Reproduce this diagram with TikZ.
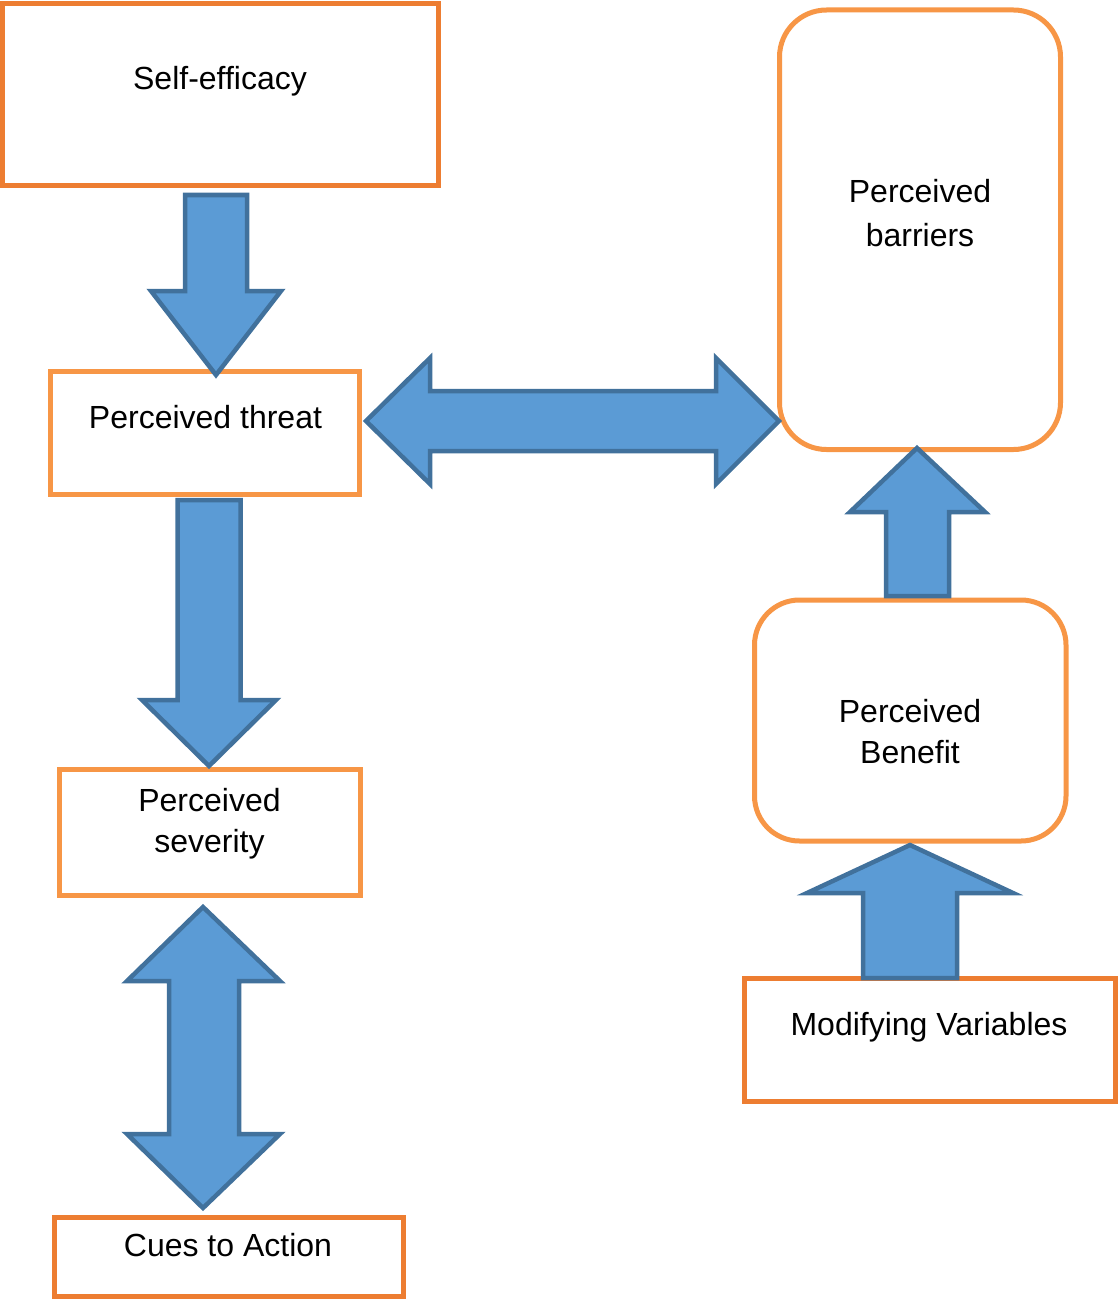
\documentclass[tikz,border=0pt]{standalone}
\usepackage{fontspec}
\setmainfont{Liberation Sans}
\definecolor{orangeA}{HTML}{ED7D31}
\definecolor{orangeB}{HTML}{F79646}
\definecolor{arrowfill}{HTML}{5B9BD5}
\definecolor{arrowline}{HTML}{41719C}
\begin{document}
\begin{tikzpicture}[x=1pt,y=-1pt,
  boxA/.style={draw=orangeA, line width=5pt, fill=white, inner sep=0pt, rectangle},
  boxB/.style={draw=orangeB, line width=5pt, fill=white, inner sep=0pt, rectangle},
  roundbox/.style={boxB, rounded corners=#1},
  lbl/.style={anchor=base, inner sep=0pt, font=\fontsize{32}{41}\selectfont},
  blockarrow/.style={fill=arrowfill, draw=arrowline, line width=4.5pt, line join=miter}]
\useasboundingbox (0,0) rectangle (1119,1300);

% boxes
\node[boxA, minimum width=435.5pt, minimum height=182pt] (self) at (220.25,94.5) {};
\node[boxB, minimum width=309pt, minimum height=123.5pt] (threat) at (205,432.75) {};
\node[boxB, minimum width=300.5pt, minimum height=126pt] (severity) at (209.75,832.5) {};
\node[boxA, minimum width=349pt, minimum height=79pt] (cues) at (229,1257) {};
\node[roundbox=47pt, minimum width=281pt, minimum height=439.5pt] (barriers) at (920,229.75) {};
\node[roundbox=45pt, minimum width=311.5pt, minimum height=241pt] (benefit) at (910.25,720.5) {};
\node[boxA, minimum width=371pt, minimum height=122.5pt] (modif) at (930,1039.75) {};

% texts
\node[lbl] (selfT) at (220,90) {Self-efficacy};
\node[lbl] (threatT) at (205.5,428) {Perceived threat};
\node[lbl] (sevT1) at (209.5,811) {Perceived};
\node[lbl] (sevT2) at (209.5,852) {severity};
\node[lbl] (cuesT) at (228,1256) {Cues to Action};
\node[lbl] (barT1) at (920,203) {Perceived};
\node[lbl] (barT2) at (920,246) {barriers};
\node[lbl] (benT1) at (910,722) {Perceived};
\node[lbl] (benT2) at (910,763) {Benefit};
\node[lbl] (modT) at (929,1035) {Modifying Variables};

% block arrows
% self-efficacy -> perceived threat
\draw[blockarrow] (185,195) -- (247,195) -- (247,291) -- (281,291) -- (216,375)
  -- (151,291) -- (185,291) -- cycle;
% perceived threat <-> perceived barriers
\draw[blockarrow] (366,421) -- (430,358) -- (430,391) -- (716,391) -- (716,358)
  -- (779,421) -- (716,484) -- (716,451) -- (430,451) -- (430,484) -- cycle;
% perceived threat -> perceived severity
\draw[blockarrow] (177.5,500) -- (240.5,500) -- (240.5,700) -- (276,700) -- (209,766)
  -- (142,700) -- (177.5,700) -- cycle;
% perceived severity <-> cues to action
\draw[blockarrow] (203,907) -- (280,981) -- (239,981) -- (239,1134) -- (280,1134)
  -- (203,1208) -- (127,1134) -- (169,1134) -- (169,981) -- (127,981) -- cycle;
% perceived benefit -> perceived barriers
\draw[blockarrow] (917,448) -- (985,512) -- (949,512) -- (949,596) -- (886,596)
  -- (886,512) -- (850,512) -- cycle;
% modifying variables -> perceived benefit
\draw[blockarrow] (910,845) -- (1013,893) -- (957,893) -- (957,978) -- (863,978)
  -- (863,893) -- (807,893) -- cycle;
\end{tikzpicture}
\end{document}
